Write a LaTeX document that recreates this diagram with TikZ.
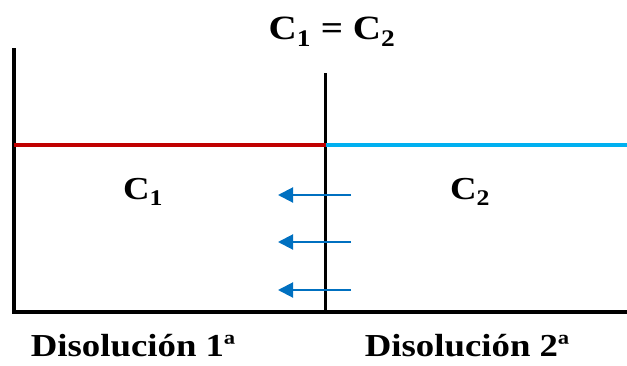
\documentclass[tikz,border=0pt]{standalone}
\usepackage{fontspec}
\setmainfont{Liberation Serif}[FakeStretch=1.15]
\usepackage{xcolor}
\usetikzlibrary{arrows.meta}
\definecolor{rojo}{HTML}{C00000}
\definecolor{celeste}{HTML}{00B0F0}
\definecolor{azul}{HTML}{0070C0}

\begin{document}
\begin{tikzpicture}[x=1pt, y=-1pt,
  pared/.style={line width=3.5pt, black},
  nivel/.style={line width=4pt},
  flujo/.style={-{Triangle[length=15pt, width=15pt]}, line width=2pt, azul},
  rotulo/.style={font=\fontsize{32}{32}\selectfont\bfseries, inner sep=0pt, anchor=base}]
\useasboundingbox (0,0) rectangle (627,365);
% Recipiente
\coordinate (TL) at (14,48);
\coordinate (BL) at (14,312);
\coordinate (BR) at (627,312);
\coordinate (MT) at (325.5,73);
\coordinate (MB) at (325.5,312);
\draw[pared] (TL) -- (BL) -- (BR);
\draw[pared] (MT) -- (MB);
% Niveles
\coordinate (NL) at (14,144.5);
\coordinate (NM) at (325.5,144.5);
\coordinate (NR) at (627,144.5);
\draw[nivel, rojo] (NL) -- (NM);
\draw[nivel, celeste] (NM) -- (NR);
% Rotulos
\node[rotulo, font=\fontsize{34}{34}\selectfont\bfseries] (titulo) at (332,39) {C\textsubscript{1} = C\textsubscript{2}};
\node[rotulo] (c1) at (143,199) {C\textsubscript{1}};
\node[rotulo] (c2) at (470,199) {C\textsubscript{2}};
\node[rotulo] (dis1) at (133,356) {Disolución 1ª};
\node[rotulo] (dis2) at (467,356) {Disolución 2ª};
% Flechas
\foreach \y [count=\i] in {195,242,290} {
  \coordinate (fa\i) at (351,\y);
  \coordinate (fb\i) at (278,\y);
  \draw[flujo] (fa\i) -- (fb\i);
}
\end{tikzpicture}
\end{document}
